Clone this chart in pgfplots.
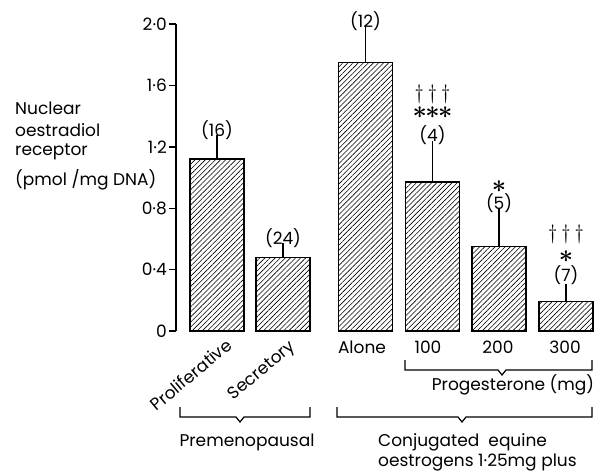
\documentclass[border=0pt]{standalone}
\usepackage{fontspec}
\setmainfont{Poppins}
\usepackage{pgfplots}
\pgfplotsset{compat=1.18}
\usetikzlibrary{patterns.meta}
\newcommand{\st}{{\fontsize{24}{24}\selectfont\boldmath$\ast$}}
\newcommand{\dg}{{\fontsize{21}{21}\selectfont$\dagger$}}
\begin{document}
\begin{tikzpicture}[font=\fontsize{17}{20}\selectfont]
\begin{axis}[
  at={(0,0)}, anchor=south west, scale only axis,
  width=417pt, height=307pt,
  xmin=-0.612, xmax=5.612, ymin=0, ymax=2,
  axis y line*=left, axis x line=none,
  ytick={0,0.4,0.8,1.2,1.6,2.0},
  yticklabels={0,0·4,0·8,1·2,1·6,2·0},
  tick align=outside, major tick length=7pt,
  axis line style={line width=1.4pt},
  ytick style={line width=1.4pt, black},
  yticklabel style={font=\fontsize{17}{20}\selectfont, inner sep=2pt},
  clip=false,
]
\addplot[ybar, bar width=0.806, draw=black, line width=1.3pt,
  pattern={Lines[angle=45,distance=3.6pt,line width=0.6pt]},
  error bars/.cd, y dir=plus, y explicit,
  error bar style={line width=1.4pt, black},
  error mark options={black, line width=1.4pt, mark size=6pt}]
coordinates {
  (0,1.12) +- (0,0.12)
  (0.985,0.48) +- (0,0.055)
  (2.216,1.75) +- (0,0.20)
  (3.216,0.97) +- (0,0.23)
  (4.21,0.55) +- (0,0.21)
  (5.21,0.19) +- (0,0.08)
};
\node at (axis cs:0,1.31) {(16)};
\node at (axis cs:0.985,0.606) {(24)};
\node at (axis cs:2.216,2.02) {(12)};
\node at (axis cs:3.216,1.277) {(4)};
\node[inner sep=0pt] at (axis cs:3.216,1.42) {\st\kern-1.5pt\st\kern-1.5pt\st};
\node[inner sep=0pt] at (axis cs:3.216,1.545) {\dg\kern4pt\dg\kern4pt\dg};
\node at (axis cs:4.21,0.834) {(5)};
\node[inner sep=0pt] at (axis cs:4.21,0.938) {\st};
\node at (axis cs:5.21,0.365) {(7)};
\node[inner sep=0pt] at (axis cs:5.21,0.482) {\st};
\node[inner sep=0pt] at (axis cs:5.21,0.633) {\dg\kern4pt\dg\kern4pt\dg};
\end{axis}
\begin{scope}[x=1pt,y=-1pt,shift={(-176pt,331pt)}]
  % y title
  \node[anchor=base west, inner sep=0pt] at (15,115) {Nuclear};
  \node[anchor=base west, inner sep=0pt] at (15,136) {oestradiol};
  \node[anchor=base west, inner sep=0pt] at (15,155) {receptor};
  \node[anchor=base west, inner sep=0pt] at (15,185) {(pmol /mg DNA)};
  % category labels
  \node[rotate=40, anchor=north east, inner sep=0pt] at (225,337) {Proliferative};
  \node[rotate=40, anchor=north east, inner sep=0pt] at (288,339) {Secretory};
  \node[anchor=base, inner sep=0pt] at (362,353) {Alone};
  \node[anchor=base, inner sep=0pt] at (428,353) {100};
  \node[anchor=base, inner sep=0pt] at (498,353) {200};
  \node[anchor=base, inner sep=0pt] at (565,353) {300};
  % braces
  \draw[line width=1.2pt] (405,360) -- (405,370) -- (498,370) -- (502,375) -- (506,370) -- (592,370) -- (592,360);
  \node[anchor=base, inner sep=0pt] at (513,390) {Progesterone (mg)};
  \draw[line width=1.2pt] (180,407) -- (180,417) -- (236,417) -- (240,422) -- (244,417) -- (310,417) -- (310,407);
  \node[anchor=base, inner sep=0pt] at (247,446) {Premenopausal};
  \draw[line width=1.2pt] (337,407) -- (337,417) -- (458,417) -- (462,422) -- (466,417) -- (592,417) -- (592,407);
  \node[anchor=base west, inner sep=0pt] at (378,446) {Conjugated\ \ equine};
  \node[anchor=base west, inner sep=0pt] at (378,466) {oestrogens 1·25mg plus};
\end{scope}
\pgfresetboundingbox
\path[use as bounding box] (-176pt,-141pt) rectangle (418pt,331pt);
\end{tikzpicture}
\end{document}
